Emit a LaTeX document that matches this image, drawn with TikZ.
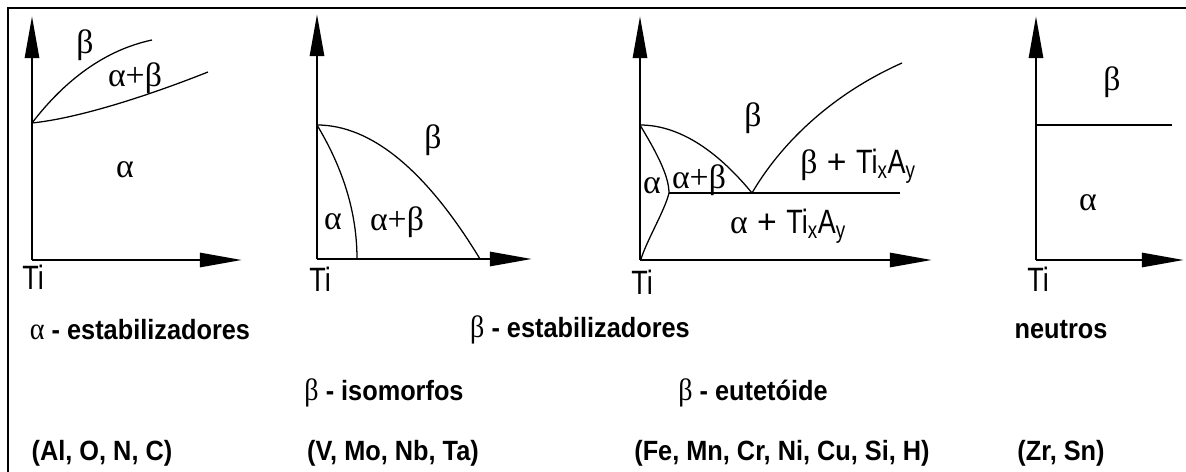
\documentclass[tikz,border=0pt]{standalone}
\usepackage{fontspec}
\setmainfont{Liberation Sans}
\newfontfamily\grk{Liberation Serif}
\usetikzlibrary{arrows.meta}
\newcommand{\narrowtxt}[1]{\scalebox{0.8}[1]{#1}}
\newcommand{\tallcap}[1]{\scalebox{1}[1.1]{#1}}
\newcommand{\capgrk}[1]{{\mdseries\grk\fontsize{20}{20}\selectfont #1}}

\begin{document}
\begin{tikzpicture}[x=0.025cm, y=-0.025cm,
  axis/.style={line width=2pt, -{Triangle[length=30pt,width=10pt]}},
  phase/.style={line width=0.9pt},
  grklbl/.style={font=\grk\fontsize{24}{24}\selectfont, inner sep=0pt},
  tilbl/.style={font=\fontsize{24}{24}\selectfont, inner sep=0pt},
  caption/.style={font=\bfseries\fontsize{18}{18}\selectfont, inner sep=0pt}]
  \useasboundingbox (0,0) rectangle (1186,472);
  % frame
  \draw[line width=1.5pt] (8,472) -- (8,8) -- (1186,8);

  % alpha stabilizers
  \coordinate (o1) at (32,260);
  \coordinate (b1) at (32,123);
  \draw[axis] (o1) -- (32,16);
  \draw[axis] (o1) -- (242,260);
  \draw[phase] (b1) .. controls (65,80) and (105,50) .. (152,40);
  \draw[phase] (b1) .. controls (80,118) and (150,95) .. (208,72);
  \node[grklbl] (beta1) at (85,45) {β};
  \node[grklbl] (ab1) at (135,78) {α+β};
  \node[grklbl] (alpha1) at (125,170) {α};
  \node[tilbl] (ti1) at (33,277) {\narrowtxt{Ti}};

  % beta isomorphous
  \coordinate (o2) at (317,259);
  \coordinate (b2) at (317,125);
  \draw[axis] (o2) -- (317,14);
  \draw[axis] (o2) -- (532,259);
  \draw[phase] (b2) .. controls (371,125) and (426,170) .. (480,259);
  \draw[phase] (b2) .. controls (344,170) and (357,214) .. (357,259);
  \node[grklbl] (beta2) at (433,140) {β};
  \node[grklbl] (alpha2) at (333,222) {α};
  \node[grklbl] (ab2) at (397,222) {α+β};
  \node[tilbl] (ti2) at (320,279) {\narrowtxt{Ti}};

  % beta eutectoid
  \coordinate (o3) at (640,260);
  \coordinate (b3) at (640,125);
  \coordinate (e3) at (752,193);
  \coordinate (h3) at (669,193);
  \draw[axis] (o3) -- (640,16);
  \draw[axis] (o3) -- (932,260);
  \draw[phase] (b3) .. controls (677,125) and (715,148) .. (e3);
  \draw[phase] (b3) .. controls (655,150) and (669,175) .. (h3)
               .. controls (665,210) and (647,240) .. (641,259);
  \draw[phase, line width=1.3pt] (h3) -- (900,193);
  \draw[phase] (e3) .. controls (780,145) and (830,95) .. (902,63);
  \node[grklbl] (beta3) at (753,118) {β};
  \node[grklbl] (ab3) at (699,180) {α+β};
  \node[grklbl] (alpha3) at (652,186) {α};
  \node[tilbl] (btx) at (858,166) {{\grk β} + \narrowtxt{Ti\textsubscript{x}A\textsubscript{y}}};
  \node[tilbl] (atx) at (788,226) {{\grk α} + \narrowtxt{Ti\textsubscript{x}A\textsubscript{y}}};
  \node[tilbl] (ti3) at (642,282) {\narrowtxt{Ti}};

  % neutral
  \coordinate (o4) at (1036,260);
  \draw[axis] (o4) -- (1036,16);
  \draw[axis] (o4) -- (1184,260);
  \draw[phase, line width=1.3pt] (1036,125) -- (1172,125);
  \node[grklbl] (beta4) at (1112,82) {β};
  \node[grklbl] (alpha4) at (1088,203) {α};
  \node[tilbl] (ti4) at (1038,279) {\narrowtxt{Ti}};

  % captions
  \node[caption] (capa) at (140,330) {\tallcap{\capgrk{α} - estabilizadores}};
  \node[caption] (capb) at (580,330) {\tallcap{\capgrk{β} - estabilizadores}};
  \node[caption] (capn) at (1061,330) {\tallcap{neutros}};
  \node[caption] (capiso) at (384,393) {\tallcap{\capgrk{β} - isomorfos}};
  \node[caption] (capeut) at (753,393) {\tallcap{\capgrk{β} - eutetóide}};
  \node[caption] (ela) at (102,453) {\tallcap{(Al, O, N, C)}};
  \node[caption] (eliso) at (393,453) {\tallcap{(V, Mo, Nb, Ta)}};
  \node[caption] (eleut) at (782,453) {\tallcap{(Fe, Mn, Cr, Ni, Cu, Si, H)}};
  \node[caption] (eln) at (1061,453) {\tallcap{(Zr, Sn)}};
\end{tikzpicture}
\end{document}
